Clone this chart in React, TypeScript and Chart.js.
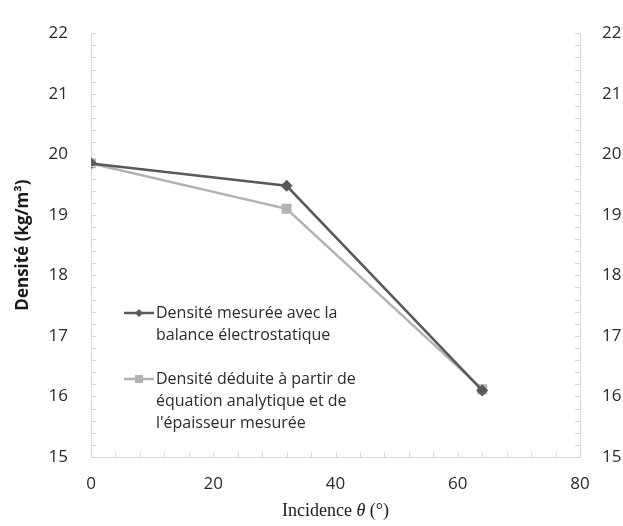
import React, { useEffect, useRef } from "react";
import { Chart, registerables } from "chart.js";

Chart.register(...registerables);

const incidences = [0, 32, 64];
const densiteMesuree = [19.85, 19.48, 16.1];
const densiteDeduite = [19.85, 19.1, 16.12];
const xTicks = [0, 20, 40, 60, 80];
const yTicks = [15, 16, 17, 18, 19, 20, 21, 22];
const legendMesuree = ["Densité mesurée avec la", "balance électrostatique"];
const legendDeduite = ["Densité déduite à partir de", "équation analytique et de", "l'épaisseur mesurée"];
const yTitle = "Densité (kg/m³)";
const xTitleParts = ["Incidence ", "θ", " (°)"];

const DARK = "#595959";
const LIGHT = "#b2b2b2";
const AXIS = "#d9d9d9";
const TEXT = "#2b2b2b";
const FONT = "'Open Sans', Lato, sans-serif";

export default function App() {
  const ref = useRef<HTMLCanvasElement | null>(null);
  useEffect(() => {
    if (!ref.current) return;
    const decor = {
      id: "decor",
      afterDraw(chart: any) {
        const ctx = chart.ctx;
        const xs = chart.scales.x;
        const ys = chart.scales.y;
        const area = chart.chartArea;
        ctx.save();
        // minor/major tick marks (inside)
        ctx.strokeStyle = AXIS;
        ctx.lineWidth = 1;
        ctx.beginPath();
        for (let v = 0; v <= 80; v += 4) {
          const px = Math.round(xs.getPixelForValue(v)) + 0.5;
          ctx.moveTo(px, area.bottom);
          ctx.lineTo(px, area.bottom - 5);
        }
        for (let i = 0; i <= 35; i++) {
          const v = 15 + i * 0.2;
          const py = Math.round(ys.getPixelForValue(v)) + 0.5;
          ctx.moveTo(area.left, py);
          ctx.lineTo(area.left + 5, py);
          ctx.moveTo(area.right, py);
          ctx.lineTo(area.right - 5, py);
        }
        ctx.stroke();

        // y title
        ctx.fillStyle = "#1a1a1a";
        ctx.font = "bold 17px " + FONT;
        ctx.textAlign = "center";
        ctx.textBaseline = "middle";
        ctx.save();
        ctx.translate(23, (area.top + area.bottom) / 2);
        ctx.rotate(-Math.PI / 2);
        ctx.fillText(yTitle, 0, 0);
        ctx.restore();

        // x title
        const fonts = [
          "18px 'Liberation Serif', 'DejaVu Serif', serif",
          "italic 18px 'Liberation Serif', 'DejaVu Serif', serif",
          "18px 'Liberation Serif', 'DejaVu Serif', serif",
        ];
        let total = 0;
        const widths = xTitleParts.map((t, i) => {
          ctx.font = fonts[i];
          const w = ctx.measureText(t).width;
          total += w;
          return w;
        });
        let cx = (area.left + area.right) / 2 - total / 2;
        ctx.textAlign = "left";
        ctx.fillStyle = "#1a1a1a";
        xTitleParts.forEach((t, i) => {
          ctx.font = fonts[i];
          ctx.fillText(t, cx, 511);
          cx += widths[i];
        });

        // legend
        const drawEntry = (lines: string[], y0: number, color: string, marker: string) => {
          ctx.strokeStyle = color;
          ctx.lineWidth = 2.5;
          ctx.beginPath();
          ctx.moveTo(124, y0);
          ctx.lineTo(154, y0);
          ctx.stroke();
          ctx.fillStyle = color;
          if (marker === "diamond") {
            ctx.beginPath();
            ctx.moveTo(139, y0 - 4);
            ctx.lineTo(143, y0);
            ctx.lineTo(139, y0 + 4);
            ctx.lineTo(135, y0);
            ctx.closePath();
            ctx.fill();
          } else {
            ctx.fillRect(135, y0 - 4, 8, 8);
          }
          ctx.fillStyle = TEXT;
          ctx.font = "16px " + FONT;
          ctx.textAlign = "left";
          ctx.textBaseline = "middle";
          lines.forEach((l, i) => ctx.fillText(l, 156, y0 + i * 22));
        };
        drawEntry(legendMesuree, 313, DARK, "diamond");
        drawEntry(legendDeduite, 379, LIGHT, "square");
        ctx.restore();
      },
    };

    const tickFont = { family: FONT, size: 17 };
    const chart = new Chart(ref.current, {
      type: "scatter",
      data: {
        datasets: [
          {
            label: legendMesuree.join(" "),
            data: incidences.map((x, i) => ({ x, y: densiteMesuree[i] })),
            showLine: true,
            borderColor: DARK,
            backgroundColor: DARK,
            borderWidth: 2.5,
            pointStyle: "rectRot",
            pointRadius: 6,
            pointBorderWidth: 0,
          },
          {
            label: legendDeduite.join(" "),
            data: incidences.map((x, i) => ({ x, y: densiteDeduite[i] })),
            showLine: true,
            borderColor: LIGHT,
            backgroundColor: LIGHT,
            borderWidth: 2.5,
            pointStyle: "rect",
            pointRadius: 7,
            pointBorderWidth: 0,
          },
        ],
      },
      options: {
        animation: false,
        responsive: true,
        maintainAspectRatio: false,
        layout: { padding: { top: 22, right: 0, left: 0, bottom: 0 } },
        plugins: { legend: { display: false }, tooltip: { enabled: false } },
        scales: {
          x: {
            type: "linear",
            min: 0,
            max: 80,
            afterBuildTicks: (s: any) => { s.ticks = xTicks.map((v) => ({ value: v })); },
            ticks: { font: tickFont, color: TEXT, padding: 17, maxRotation: 0 },
            grid: { display: false, drawTicks: false },
            border: { display: true, color: AXIS, width: 1 },
            afterFit: (s: any) => { s.height = 69; },
          },
          y: {
            type: "linear",
            position: "left",
            min: 15,
            max: 22,
            afterBuildTicks: (s: any) => { s.ticks = yTicks.map((v) => ({ value: v })); },
            ticks: { font: tickFont, color: TEXT, padding: 23 },
            grid: { display: false, drawTicks: false },
            border: { display: true, color: AXIS, width: 1 },
            afterFit: (s: any) => { s.width = 91; },
          },
          y2: {
            type: "linear",
            position: "right",
            min: 15,
            max: 22,
            afterBuildTicks: (s: any) => { s.ticks = yTicks.map((v) => ({ value: v })); },
            ticks: { font: tickFont, color: TEXT, padding: 22 },
            grid: { display: false, drawTicks: false },
            border: { display: true, color: AXIS, width: 1 },
            afterFit: (s: any) => { s.width = 43; },
          },
        },
      },
      plugins: [decor],
    } as any);
    return () => chart.destroy();
  }, []);
  return (
    <div style={{ position: "fixed", left: 0, top: 0, width: 623, height: 526, background: "#fff" }}>
      <canvas ref={ref} />
    </div>
  );
}
